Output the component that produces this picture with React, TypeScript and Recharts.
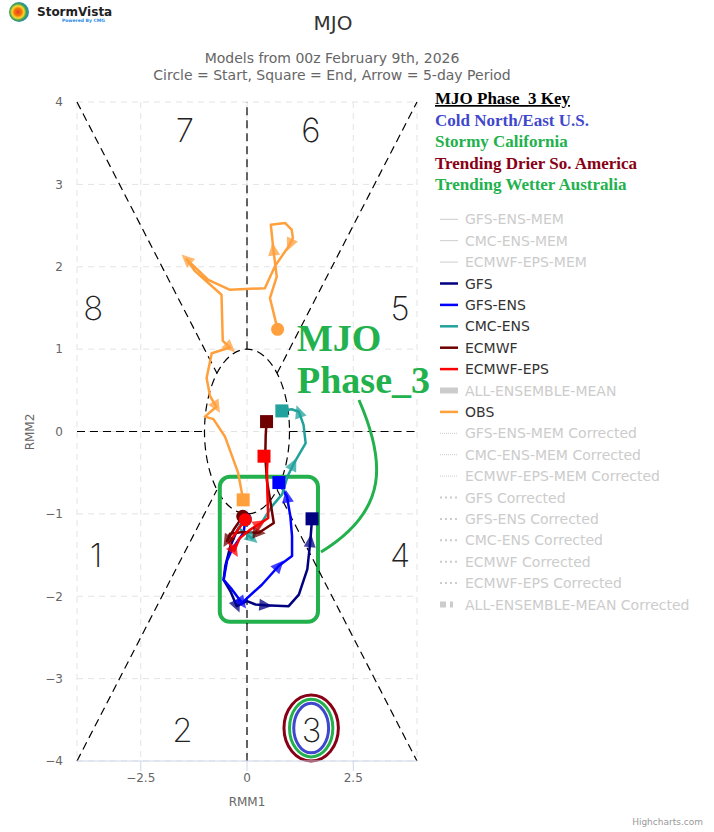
import React from "react";
import {
  CartesianGrid,
  ComposedChart,
  Line,
  ReferenceArea,
  ReferenceDot,
  ReferenceLine,
  XAxis,
  YAxis,
} from "recharts";

type Pt = [number, number];

// RMM1 / RMM2 tracks (start -> end)
const obsPath: Pt[] = [
  [0.72, 1.24], [0.54, 1.62], [0.7, 1.88], [0.62, 2.21], [0.56, 2.51],
  [0.9, 2.53], [1.05, 2.45], [1.08, 2.35], [1.01, 2.27], [0.66, 2.01],
  [0.42, 1.74], [-0.4, 1.72], [-0.91, 1.84], [-1.42, 2.09], [-1.23, 1.95],
  [-0.6, 1.66], [-0.57, 1.1], [-0.4, 1.02], [-0.83, 0.95], [-0.95, 0.65],
  [-0.87, 0.43], [-0.72, 0.3], [-0.99, 0.18], [-0.79, 0.15], [-0.52, -0.06],
  [-0.21, -0.5], [-0.09, -0.83],
];
const obsArrows = [3, 8, 13, 17, 21];

const gfsPath: Pt[] = [
  [-0.05, -1.05], [-0.25, -1.22], [-0.39, -1.39], [-0.51, -1.63], [-0.55, -1.8],
  [-0.39, -1.94], [-0.24, -2.12], [0.0, -2.06], [0.2, -2.1], [0.43, -2.11],
  [0.98, -2.12], [1.22, -1.98], [1.42, -1.67], [1.49, -1.33], [1.53, -1.06],
];
const gfsArrows = [6, 9, 13];

const gfsEnsPath: Pt[] = [
  [-0.04, -1.07], [-0.08, -1.23], [-0.35, -1.43], [-0.47, -1.57], [-0.55, -1.8],
  [-0.35, -1.92], [-0.12, -2.08], [0.35, -1.86], [0.75, -1.63], [1.06, -1.51],
  [1.06, -1.27], [1.02, -1.03], [0.94, -0.79], [0.75, -0.62],
];
const gfsEnsArrows = [6, 8, 12];

const cmcEnsPath: Pt[] = [
  [-0.04, -1.07], [-0.2, -1.17], [0.12, -1.3], [0.35, -1.1], [0.6, -0.9],
  [0.83, -0.76], [0.95, -0.55], [1.09, -0.4], [1.38, -0.14], [1.33, 0.08],
  [1.22, 0.24], [1.05, 0.27], [0.82, 0.25],
];
const cmcEnsArrows = [2, 7, 10];

const ecmwfPath: Pt[] = [
  [-0.1, -1.03], [-0.3, -1.18], [-0.47, -1.33], [-0.4, -1.24], [-0.1, -1.22],
  [0.28, -1.23], [0.63, -1.11], [0.55, -0.85], [0.47, -0.6], [0.43, -0.3],
  [0.44, -0.05], [0.46, 0.12],
];
const ecmwfArrows = [2, 5];

const ecmwfEpsPath: Pt[] = [
  [-0.04, -1.07], [-0.25, -1.22], [-0.42, -1.35], [-0.3, -1.45], [-0.18, -1.3],
  [0.05, -1.2], [0.3, -1.12], [0.5, -1.05], [0.48, -0.75], [0.47, -0.48],
  [0.48, -0.38], [0.4, -0.3],
];
const ecmwfEpsArrows = [3, 6];

const xTicks = [-2.5, 0, 2.5];
const yTicks = [-4, -3, -2, -1, 0, 1, 2, 3, 4];

const phaseLabels = [
  { phase: "1", x: -3.55, y: -1.5 },
  { phase: "2", x: -1.52, y: -3.62 },
  { phase: "3", x: 1.52, y: -3.62 },
  { phase: "4", x: 3.6, y: -1.5 },
  { phase: "5", x: 3.6, y: 1.5 },
  { phase: "6", x: 1.5, y: 3.66 },
  { phase: "7", x: -1.46, y: 3.66 },
  { phase: "8", x: -3.62, y: 1.5 },
];

// phase boundaries, broken inside the unit circle
const phaseLines: Pt[][] = [
  [[-4, -4], [-0.71, -0.71]],
  [[0.71, 0.71], [4, 4]],
  [[-4, 4], [-0.71, 0.71]],
  [[0.71, -0.71], [4, -4]],
  [[0, 1], [0, 4]],
  [[0, -4], [0, -1]],
  [[-4, 0], [-1, 0]],
  [[1, 0], [4, 0]],
];

const series = [
  { name: "GFS", color: "#000080", path: gfsPath, arrows: gfsArrows },
  { name: "GFS-ENS", color: "#0000ff", path: gfsEnsPath, arrows: gfsEnsArrows },
  { name: "CMC-ENS", color: "#22a29c", path: cmcEnsPath, arrows: cmcEnsArrows },
  { name: "ECMWF", color: "#6e0000", path: ecmwfPath, arrows: ecmwfArrows },
  { name: "ECMWF-EPS", color: "#ff0000", path: ecmwfEpsPath, arrows: ecmwfEpsArrows },
  { name: "OBS", color: "#ffa03c", path: obsPath, arrows: obsArrows },
];

const legendItems = [
  { name: "GFS-ENS-MEM", color: "#cccccc", symbol: "thin", hidden: true },
  { name: "CMC-ENS-MEM", color: "#cccccc", symbol: "thin", hidden: true },
  { name: "ECMWF-EPS-MEM", color: "#cccccc", symbol: "thin", hidden: true },
  { name: "GFS", color: "#000080", symbol: "line", hidden: false },
  { name: "GFS-ENS", color: "#0000ff", symbol: "line", hidden: false },
  { name: "CMC-ENS", color: "#22a29c", symbol: "line", hidden: false },
  { name: "ECMWF", color: "#6e0000", symbol: "line", hidden: false },
  { name: "ECMWF-EPS", color: "#ff0000", symbol: "line", hidden: false },
  { name: "ALL-ENSEMBLE-MEAN", color: "#cccccc", symbol: "bar", hidden: true },
  { name: "OBS", color: "#ffa03c", symbol: "line", hidden: false },
  { name: "GFS-ENS-MEM Corrected", color: "#cccccc", symbol: "thinDot", hidden: true },
  { name: "CMC-ENS-MEM Corrected", color: "#cccccc", symbol: "thinDot", hidden: true },
  { name: "ECMWF-EPS-MEM Corrected", color: "#cccccc", symbol: "thinDot", hidden: true },
  { name: "GFS Corrected", color: "#cccccc", symbol: "dot", hidden: true },
  { name: "GFS-ENS Corrected", color: "#cccccc", symbol: "dot", hidden: true },
  { name: "CMC-ENS Corrected", color: "#cccccc", symbol: "dot", hidden: true },
  { name: "ECMWF Corrected", color: "#cccccc", symbol: "dot", hidden: true },
  { name: "ECMWF-EPS Corrected", color: "#cccccc", symbol: "dot", hidden: true },
  { name: "ALL-ENSEMBLE-MEAN Corrected", color: "#cccccc", symbol: "barDot", hidden: true },
];

const keyLines = [
  { text: "Cold North/East U.S.", color: "#3f48cc" },
  { text: "Stormy California", color: "#22b14c" },
  { text: "Trending Drier So. America", color: "#880015" },
  { text: "Trending Wetter Australia", color: "#22b14c" },
];

const phase3Rings = [
  { x1: 0.87, x2: 2.15, y1: -4.0, y2: -3.2, color: "#880015" },
  { x1: 1.0, x2: 2.02, y1: -3.95, y2: -3.25, color: "#22b14c" },
  { x1: 1.1, x2: 1.92, y1: -3.9, y2: -3.3, color: "#3f48cc" },
];

const W = 714;
const H = 832;
const MARGIN = { top: 102, right: 297, bottom: 41, left: 30 };
const PLOT_W = W - MARGIN.left - MARGIN.right - 47;
const PLOT_H = H - MARGIN.top - MARGIN.bottom - 30;
const FONT = "'DejaVu Sans', sans-serif";
const SERIF = "'Liberation Serif', 'Times New Roman', serif";

const fmt = (v: number) => String(v).replace("-", "\u2212");

function markerFor(color: string, path: Pt[], arrows: number[]) {
  return (props: any) => {
    const { cx, cy, index, points } = props;
    const key = `m-${index}`;
    if (cx == null || cy == null) return <g key={key} />;
    if (index === 0) return <circle key={key} cx={cx} cy={cy} r={6.5} fill={color} />;
    if (index === path.length - 1)
      return <rect key={key} x={cx - 6.5} y={cy - 6.5} width={13} height={13} fill={color} />;
    if (!arrows.includes(index)) return <g key={key} />;
    let dx: number;
    let dy: number;
    if (points && points[index - 1]) {
      dx = cx - points[index - 1].x;
      dy = cy - points[index - 1].y;
    } else {
      dx = ((path[index][0] - path[index - 1][0]) * PLOT_W) / 8;
      dy = (-(path[index][1] - path[index - 1][1]) * PLOT_H) / 8;
    }
    const ang = (Math.atan2(dy, dx) * 180) / Math.PI;
    return (
      <path
        key={key}
        d="M 7 0 L -6 -6 L -6 6 Z"
        transform={`translate(${cx},${cy}) rotate(${ang})`}
        fill={color}
        fillOpacity={0.75}
      />
    );
  };
}

function LegendSymbol({ symbol, color, y }: { symbol: string; color: string; y: number }) {
  const x1 = 440;
  const x2 = 458;
  if (symbol === "thin") return <line x1={x1} x2={x2} y1={y} y2={y} stroke={color} strokeWidth={1} />;
  if (symbol === "thinDot")
    return <line x1={x1} x2={x2} y1={y} y2={y} stroke={color} strokeWidth={1} strokeDasharray="1 1" />;
  if (symbol === "dot")
    return <line x1={x1} x2={x2} y1={y} y2={y} stroke={color} strokeWidth={2} strokeDasharray="2 3" />;
  if (symbol === "bar") return <line x1={x1} x2={x2} y1={y} y2={y} stroke={color} strokeWidth={6} />;
  if (symbol === "barDot")
    return <line x1={x1} x2={x2} y1={y} y2={y} stroke={color} strokeWidth={6} strokeDasharray="6 4 3 20" />;
  return <line x1={x1} x2={x2} y1={y} y2={y} stroke={color} strokeWidth={2.5} />;
}

export default function App() {
  return (
    <div
      style={{
        position: "absolute",
        left: 0,
        top: 0,
        width: W,
        height: H,
        background: "#ffffff",
        fontFamily: FONT,
      }}
    >
      <ComposedChart width={W} height={H} margin={MARGIN}>
        <CartesianGrid stroke="#e3e3e3" strokeDasharray="6 5" />
        <XAxis
          type="number"
          dataKey="x"
          domain={[-4, 4]}
          ticks={xTicks}
          allowDataOverflow
          height={30}
          stroke="#ccd6eb"
          tickSize={10}
          tickMargin={2}
          tick={{ fill: "#666666", fontSize: 12 }}
          tickFormatter={fmt}
        />
        <YAxis
          type="number"
          domain={[-4, 4]}
          ticks={yTicks}
          interval={0}
          allowDataOverflow
          width={47}
          axisLine={false}
          tickLine={false}
          tickSize={0}
          tickMargin={14}
          tick={{ fill: "#666666", fontSize: 12 }}
          tickFormatter={fmt}
        />
        {phaseLines.map((seg, i) => (
          <ReferenceLine
            key={`pl-${i}`}
            segment={[
              { x: seg[0][0], y: seg[0][1] },
              { x: seg[1][0], y: seg[1][1] },
            ]}
            stroke="#000000"
            strokeWidth={1.2}
            strokeDasharray="8 5"
            ifOverflow="visible"
          />
        ))}
        <ReferenceArea
          x1={-1}
          x2={1}
          y1={-1}
          y2={1}
          ifOverflow="visible"
          shape={(p: any) => (
            <ellipse
              cx={p.x + p.width / 2}
              cy={p.y + p.height / 2}
              rx={Math.abs(p.width / 2)}
              ry={Math.abs(p.height / 2)}
              fill="none"
              stroke="#000000"
              strokeWidth={1.2}
              strokeDasharray="8 5"
            />
          )}
        />
        {phaseLabels.map((p) => (
          <ReferenceDot
            key={`ph-${p.phase}`}
            x={p.x}
            y={p.y}
            r={0}
            ifOverflow="visible"
            shape={(s: any) => (
              <text
                x={s.cx}
                y={s.cy}
                textAnchor="middle"
                dominantBaseline="central"
                fontFamily="Inter, 'Liberation Mono', monospace"
                fontWeight={200}
                fontSize={33}
                fill="#222222"
              >
                {p.phase}
              </text>
            )}
          />
        ))}
        {phase3Rings.map((r, i) => (
          <ReferenceArea
            key={`ring-${i}`}
            x1={r.x1}
            x2={r.x2}
            y1={r.y1}
            y2={r.y2}
            ifOverflow="visible"
            shape={(p: any) => (
              <ellipse
                cx={p.x + p.width / 2}
                cy={p.y + p.height / 2}
                rx={Math.abs(p.width / 2)}
                ry={Math.abs(p.height / 2)}
                fill="none"
                stroke={r.color}
                strokeWidth={3}
              />
            )}
          />
        ))}
        {series.map((s) => (
          <Line
            key={s.name}
            name={s.name}
            data={s.path.map(([x, y]) => ({ x, y }))}
            dataKey="y"
            type="linear"
            stroke={s.color}
            strokeWidth={2.5}
            strokeLinejoin="round"
            dot={markerFor(s.color, s.path, s.arrows)}
            activeDot={false}
            legendType="none"
            isAnimationActive={false}
          />
        ))}
        <ReferenceArea
          x1={-0.64}
          x2={1.67}
          y1={-2.31}
          y2={-0.55}
          ifOverflow="visible"
          shape={(p: any) => (
            <rect
              x={p.x}
              y={p.y}
              width={p.width}
              height={p.height}
              rx={10}
              ry={10}
              fill="none"
              stroke="#22b14c"
              strokeWidth={4}
            />
          )}
        />
      </ComposedChart>

      <svg
        width={W}
        height={H}
        style={{ position: "absolute", left: 0, top: 0, pointerEvents: "none" }}
      >
        <defs>
          <radialGradient id="logoGrad" cx="45%" cy="50%" r="55%">
            <stop offset="0%" stopColor="#e53935" />
            <stop offset="35%" stopColor="#f57c00" />
            <stop offset="55%" stopColor="#fdd835" />
            <stop offset="75%" stopColor="#43a047" />
            <stop offset="100%" stopColor="#1e88e5" />
          </radialGradient>
        </defs>
        <circle cx={19} cy={12} r={10} fill="url(#logoGrad)" />
        <text x={37} y={16} fontSize={12} fontWeight="bold" fill="#222222">
          StormVista
        </text>
        <text x={105} y={22} fontSize={4.5} fontWeight="bold" fill="#1e88e5" textAnchor="end">
          Powered By CMG
        </text>

        <text x={333} y={30} textAnchor="middle" fontSize={20} fill="#333333">
          MJO
        </text>
        <text x={332} y={63} textAnchor="middle" fontSize={14} fill="#666666">
          Models from 00z February 9th, 2026
        </text>
        <text x={332} y={80} textAnchor="middle" fontSize={14} fill="#666666">
          Circle = Start, Square = End, Arrow = 5-day Period
        </text>

        <text
          transform="translate(34,432) rotate(-90)"
          textAnchor="middle"
          fontSize={12}
          fill="#666666"
        >
          RMM2
        </text>
        <text x={247} y={806} textAnchor="middle" fontSize={12} fill="#666666">
          RMM1
        </text>

        <text
          x={435}
          y={104}
          fontFamily={SERIF}
          fontWeight="bold"
          fontSize={17}
          fill="#000000"
          textDecoration="underline"
        >
          MJO Phase_3 Key
        </text>
        {keyLines.map((k, i) => (
          <text
            key={k.text}
            x={435}
            y={126 + i * 21.3}
            fontFamily={SERIF}
            fontWeight="bold"
            fontSize={17}
            fill={k.color}
          >
            {k.text}
          </text>
        ))}

        <text x={297} y={351} fontFamily={SERIF} fontWeight="bold" fontSize={38} fill="#22b14c">
          MJO
        </text>
        <text x={297} y={393} fontFamily={SERIF} fontWeight="bold" fontSize={38} fill="#22b14c">
          Phase_3
        </text>
        <path
          d="M 359 400 C 385 460, 390 510, 321 552"
          fill="none"
          stroke="#22b14c"
          strokeWidth={3}
        />

        {legendItems.map((item, i) => {
          const y = 219.3 + i * 21.4;
          return (
            <g key={item.name}>
              <LegendSymbol symbol={item.symbol} color={item.color} y={y} />
              <text
                x={465}
                y={y}
                dominantBaseline="central"
                fontSize={14}
                fill={item.hidden ? "#cccccc" : "#333333"}
              >
                {item.name}
              </text>
            </g>
          );
        })}

        <text x={703} y={825} textAnchor="end" fontSize={9} fill="#999999">
          Highcharts.com
        </text>
      </svg>
    </div>
  );
}
